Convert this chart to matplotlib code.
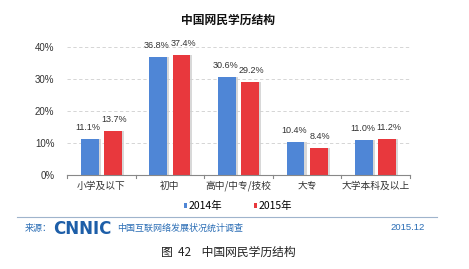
import matplotlib.pyplot as plt

plt.rcParams['font.family'] = ['Noto Sans CJK SC', 'DejaVu Sans']

categories = ['小学及以下', '初中', '高中/中专/技校', '大专', '大学本科及以上']
years = ['2014年', '2015年']
v2014 = [11.1, 36.8, 30.6, 10.4, 11.0]
v2015 = [13.7, 37.4, 29.2, 8.4, 11.2]
yticks = [0, 10, 20, 30, 40]

blue = '#4f86d6'
red = '#e8383d'
num_font = ['Liberation Sans', 'DejaVu Sans']

fig = plt.figure(figsize=(4.69, 2.69), dpi=100)
ax = fig.add_axes([67/469, 94/269, 343/469, 128/269])

x = list(range(len(categories)))
w = 0.26
off = 0.168
xb = [i - off for i in x]
xr = [i + off for i in x]
# grey shadow behind bars
ax.bar([i + 0.03 for i in xb], v2014, w, color='#d8d8d8', zorder=1)
ax.bar([i + 0.03 for i in xr], v2015, w, color='#d8d8d8', zorder=1)
b1 = ax.bar(xb, v2014, w, color=blue, label=years[0], zorder=2)
b2 = ax.bar(xr, v2015, w, color=red, label=years[1], zorder=2)

for xs, vs, nudge in ((xb, v2014, -0.025), (xr, v2015, 0.025)):
    for xi, v in zip(xs, vs):
        ax.text(xi + nudge, v + 3.6, '%.1f%%' % v, ha='center', va='center',
                fontsize=6.5, color='#333333', clip_on=False, family=num_font)

ax.set_xlim(-0.5, 4.5)
ax.set_ylim(0, 40)
ax.set_yticks(yticks)
ax.set_yticklabels(['%d%%' % t for t in yticks], family=num_font)
ax.set_xticks(x)
ax.set_xticklabels(categories)
ax.tick_params(axis='both', labelsize=7, colors='#333333', length=0)
ax.tick_params(axis='y', pad=9)
ax.tick_params(axis='x', pad=4)
ax.yaxis.grid(True, linestyle=(0, (4, 3)), color='#cfcfcf', linewidth=0.6, zorder=0)
for s in ['top', 'right', 'left']:
    ax.spines[s].set_visible(False)
ax.spines['bottom'].set_color('#888888')
ax.spines['bottom'].set_linewidth(0.8)
# small tick marks between categories
for i in range(len(categories) + 1):
    ax.plot([i - 0.5, i - 0.5], [0, -0.8], color='#888888', lw=0.8, clip_on=False)

ax.legend(handles=[b1, b2], loc='center', bbox_to_anchor=(238/469, 1 - 206/269),
          bbox_transform=fig.transFigure, ncol=2, frameon=False, fontsize=7.5,
          handlelength=0.35, handleheight=0.35, handletextpad=0.15, columnspacing=3.0)

fig.text(228/469, 1 - 20/269, '中国网民学历结构', ha='center', va='center',
         fontsize=8.5, fontweight='bold', color='#111111')

fig.add_artist(plt.Line2D([17/469, 437/469], [1 - 217/269, 1 - 217/269],
                          color='#9fb4cc', lw=0.8))
fig.text(25/469, 1 - 228/269, '来源：', ha='left', va='center', fontsize=6.5, color='#2a6db5')
fig.text(53/469, 1 - 229/269, 'CNNIC', ha='left', va='center', fontsize=12,
         fontweight='heavy', color='#1d5ea8', family=['DejaVu Sans'])
fig.text(117/469, 1 - 228/269, '中国互联网络发展状况统计调查', ha='left', va='center',
         fontsize=6.5, color='#2a6db5')
fig.text(425/469, 1 - 228/269, '2015.12', ha='right', va='center', fontsize=6.8,
         color='#2a6db5', family=num_font)

fig.text(228/469, 1 - 252/269, '图  42    中国网民学历结构', ha='center', va='center',
         fontsize=8.5, color='#222222')

fig.savefig('out.png', dpi=100)
